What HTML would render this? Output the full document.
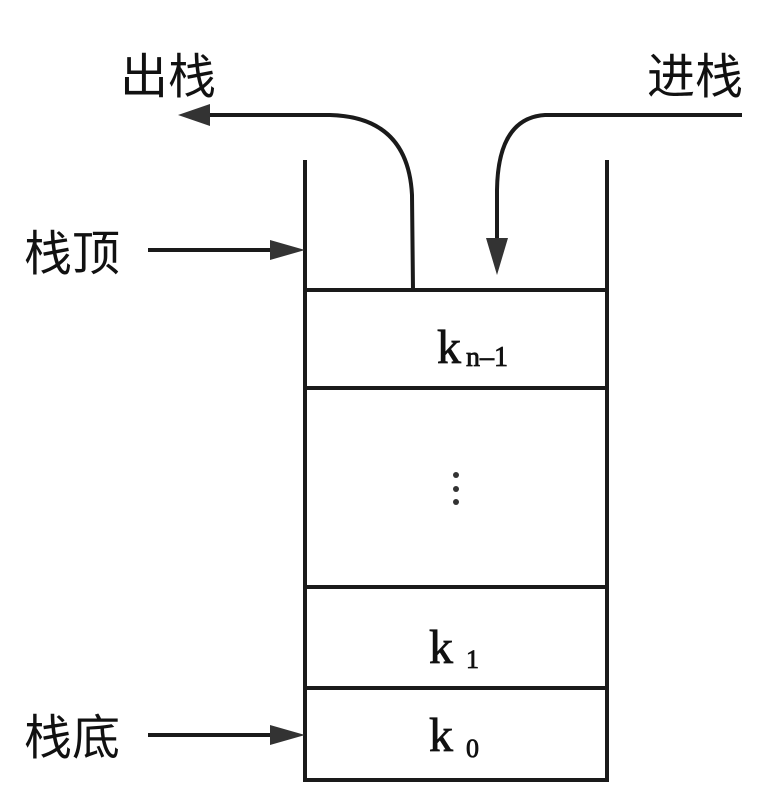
<!DOCTYPE html>
<html><head><meta charset="utf-8"><style>
html,body{margin:0;padding:0;background:#fff;}
body{width:762px;height:794px;overflow:hidden;}
</style></head><body>
<svg width="762" height="794" viewBox="0 0 762 794" xmlns="http://www.w3.org/2000/svg">
<g stroke="#1a1a1a" stroke-width="4" fill="none">
<line x1="305" y1="160" x2="305" y2="782"/>
<line x1="607" y1="160" x2="607" y2="782"/>
<line x1="303" y1="290" x2="609" y2="290"/>
<line x1="303" y1="388" x2="609" y2="388"/>
<line x1="303" y1="587" x2="609" y2="587"/>
<line x1="303" y1="688" x2="609" y2="688"/>
<line x1="303" y1="780" x2="609" y2="780"/>
<path d="M413 290 L412 195 Q408 117 330 115 L205 115"/>
<path d="M742 115 L545 115 Q498 118 497 190 L497 245"/>
<line x1="148" y1="250" x2="275" y2="250"/>
<line x1="148" y1="735" x2="275" y2="735"/>
</g>
<g fill="#333">
<polygon points="178,115 210,104 210,126"/>
<polygon points="497,275 486,238 508,238"/>
<polygon points="305,250 270,240 270,260"/>
<polygon points="305,735 270,725 270,745"/>
<circle cx="456" cy="475" r="3"/><circle cx="456" cy="489" r="3"/><circle cx="456" cy="502" r="3"/>
</g>
<g font-family="'Liberation Sans','Noto Sans CJK SC',sans-serif" font-size="48" fill="#111">
<text x="120" y="93">出栈</text>
<text x="647" y="93">进栈</text>
<text x="24" y="270">栈顶</text>
<text x="24" y="754">栈底</text>
</g>
<g font-family="'Liberation Serif',serif" fill="#111" stroke="#111" stroke-width="0.8">
<text x="437" y="363" font-size="48">k</text>
<text x="466" y="366" font-size="28">n–1</text>
<text x="429" y="663" font-size="48">k</text>
<text x="466" y="668" font-size="26">1</text>
<text x="429" y="751" font-size="48">k</text>
<text x="466" y="757" font-size="26">0</text>
</g>
</svg>
</body></html>
